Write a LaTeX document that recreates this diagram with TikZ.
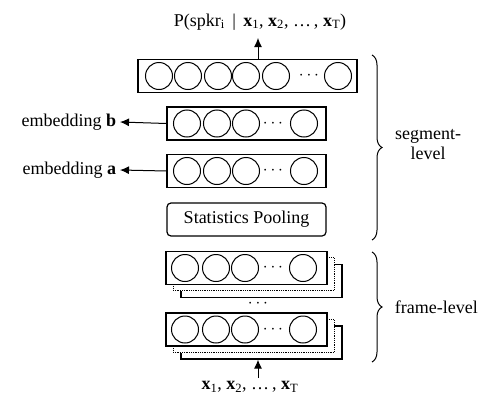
\documentclass[tikz,border=0pt]{standalone}
\usepackage{fontspec}
\setmainfont{Liberation Serif}
\usetikzlibrary{arrows.meta,positioning,decorations.pathreplacing}

\tikzset{
  layer/.style={draw,rectangle,fill=white,minimum height=33pt,inner sep=0pt},
  unit/.style={draw,circle,minimum size=27pt,inner sep=0pt,line width=1pt},
  arr/.style={-{Latex[length=9pt,width=8pt]},line width=1pt},
  brc/.style={decorate,decoration={brace,amplitude=10pt},line width=1pt}
}

\begin{document}
\begin{tikzpicture}[x=1pt,y=-1pt,font=\fontsize{18}{20}\selectfont,line width=1.2pt]
\useasboundingbox (0,0) rectangle (504,407);

% segment-level layers
\node[layer,minimum width=219pt] (outl) at (247.5,76) {};
\foreach \cx [count=\i] in {159,188,218,246,276,338}
  \node[unit] (o\i) at (\cx,76) {};
\node (odots) at (309,76) {$\cdots$};

\node[layer,minimum width=159pt] (embb) at (246.5,123.5) {};
\foreach \cx [count=\i] in {187,217,246,304}
  \node[unit] (b\i) at (\cx,123.5) {};
\node (bdots) at (273,123.5) {$\cdots$};

\node[layer,minimum width=159pt] (emba) at (246.5,171) {};
\foreach \cx [count=\i] in {187,217,246,304}
  \node[unit] (a\i) at (\cx,171) {};
\node (adots) at (273,171) {$\cdots$};

\node[layer,rounded corners=4pt,minimum width=159pt] (pool) at (246.5,219.5) {Statistics Pooling};

% frame-level layers
\node[layer,minimum width=161pt] (frAbk) at (261.5,281) {};
\node[layer,densely dotted,line width=0.8pt,minimum width=161pt] (frAdt) at (253.5,274) {};
\node[layer,minimum width=161pt] (frA) at (246.5,268) {};
\foreach \cx [count=\i] in {185,216,245,303}
  \node[unit] (fa\i) at (\cx,268) {};
\node (fadots) at (273,268) {$\cdots$};

\node (midots) at (258,304) {$\cdots$};

\node[layer,minimum width=161pt] (frBbk) at (261.5,342.5) {};
\node[layer,densely dotted,line width=0.8pt,minimum width=161pt] (frBdt) at (253.5,336) {};
\node[layer,minimum width=161pt] (frB) at (246.5,329.5) {};
\foreach \cx [count=\i] in {185,216,245,303}
  \node[unit] (fb\i) at (\cx,329.5) {};
\node (fbdots) at (273,329.5) {$\cdots$};

% texts
\node (prob) at (260,22) {P(spkr\textsubscript{i}\, |\, \textbf{x}\textsubscript{1}, \textbf{x}\textsubscript{2}, \ldots\,, \textbf{x}\textsubscript{T})};
\node (inp) at (250,387) {\textbf{x}\textsubscript{1}, \textbf{x}\textsubscript{2}, \ldots\,, \textbf{x}\textsubscript{T}};
\node[anchor=east] (lblb) at (120,122) {embedding \textbf{b}};
\node[anchor=east] (lbla) at (120,170) {embedding \textbf{a}};
\node[align=center] (seglbl) at (428,145) {segment-\\level};
\node[anchor=west] (frlbl) at (391,307) {frame-level};

% connectors
\draw[arr] (outl.north -| 258,0) -- (258,38);
\draw[arr] (embb.west) -- (lblb.east);
\draw[arr] (emba.west) -- (lbla.east);
\draw[arr] (258,378) -- (frBbk.south -| 258,0);

% braces
\draw[brc] (372,55) -- (372,240);
\draw[brc] (372,252) -- (372,362);
\end{tikzpicture}
\end{document}
